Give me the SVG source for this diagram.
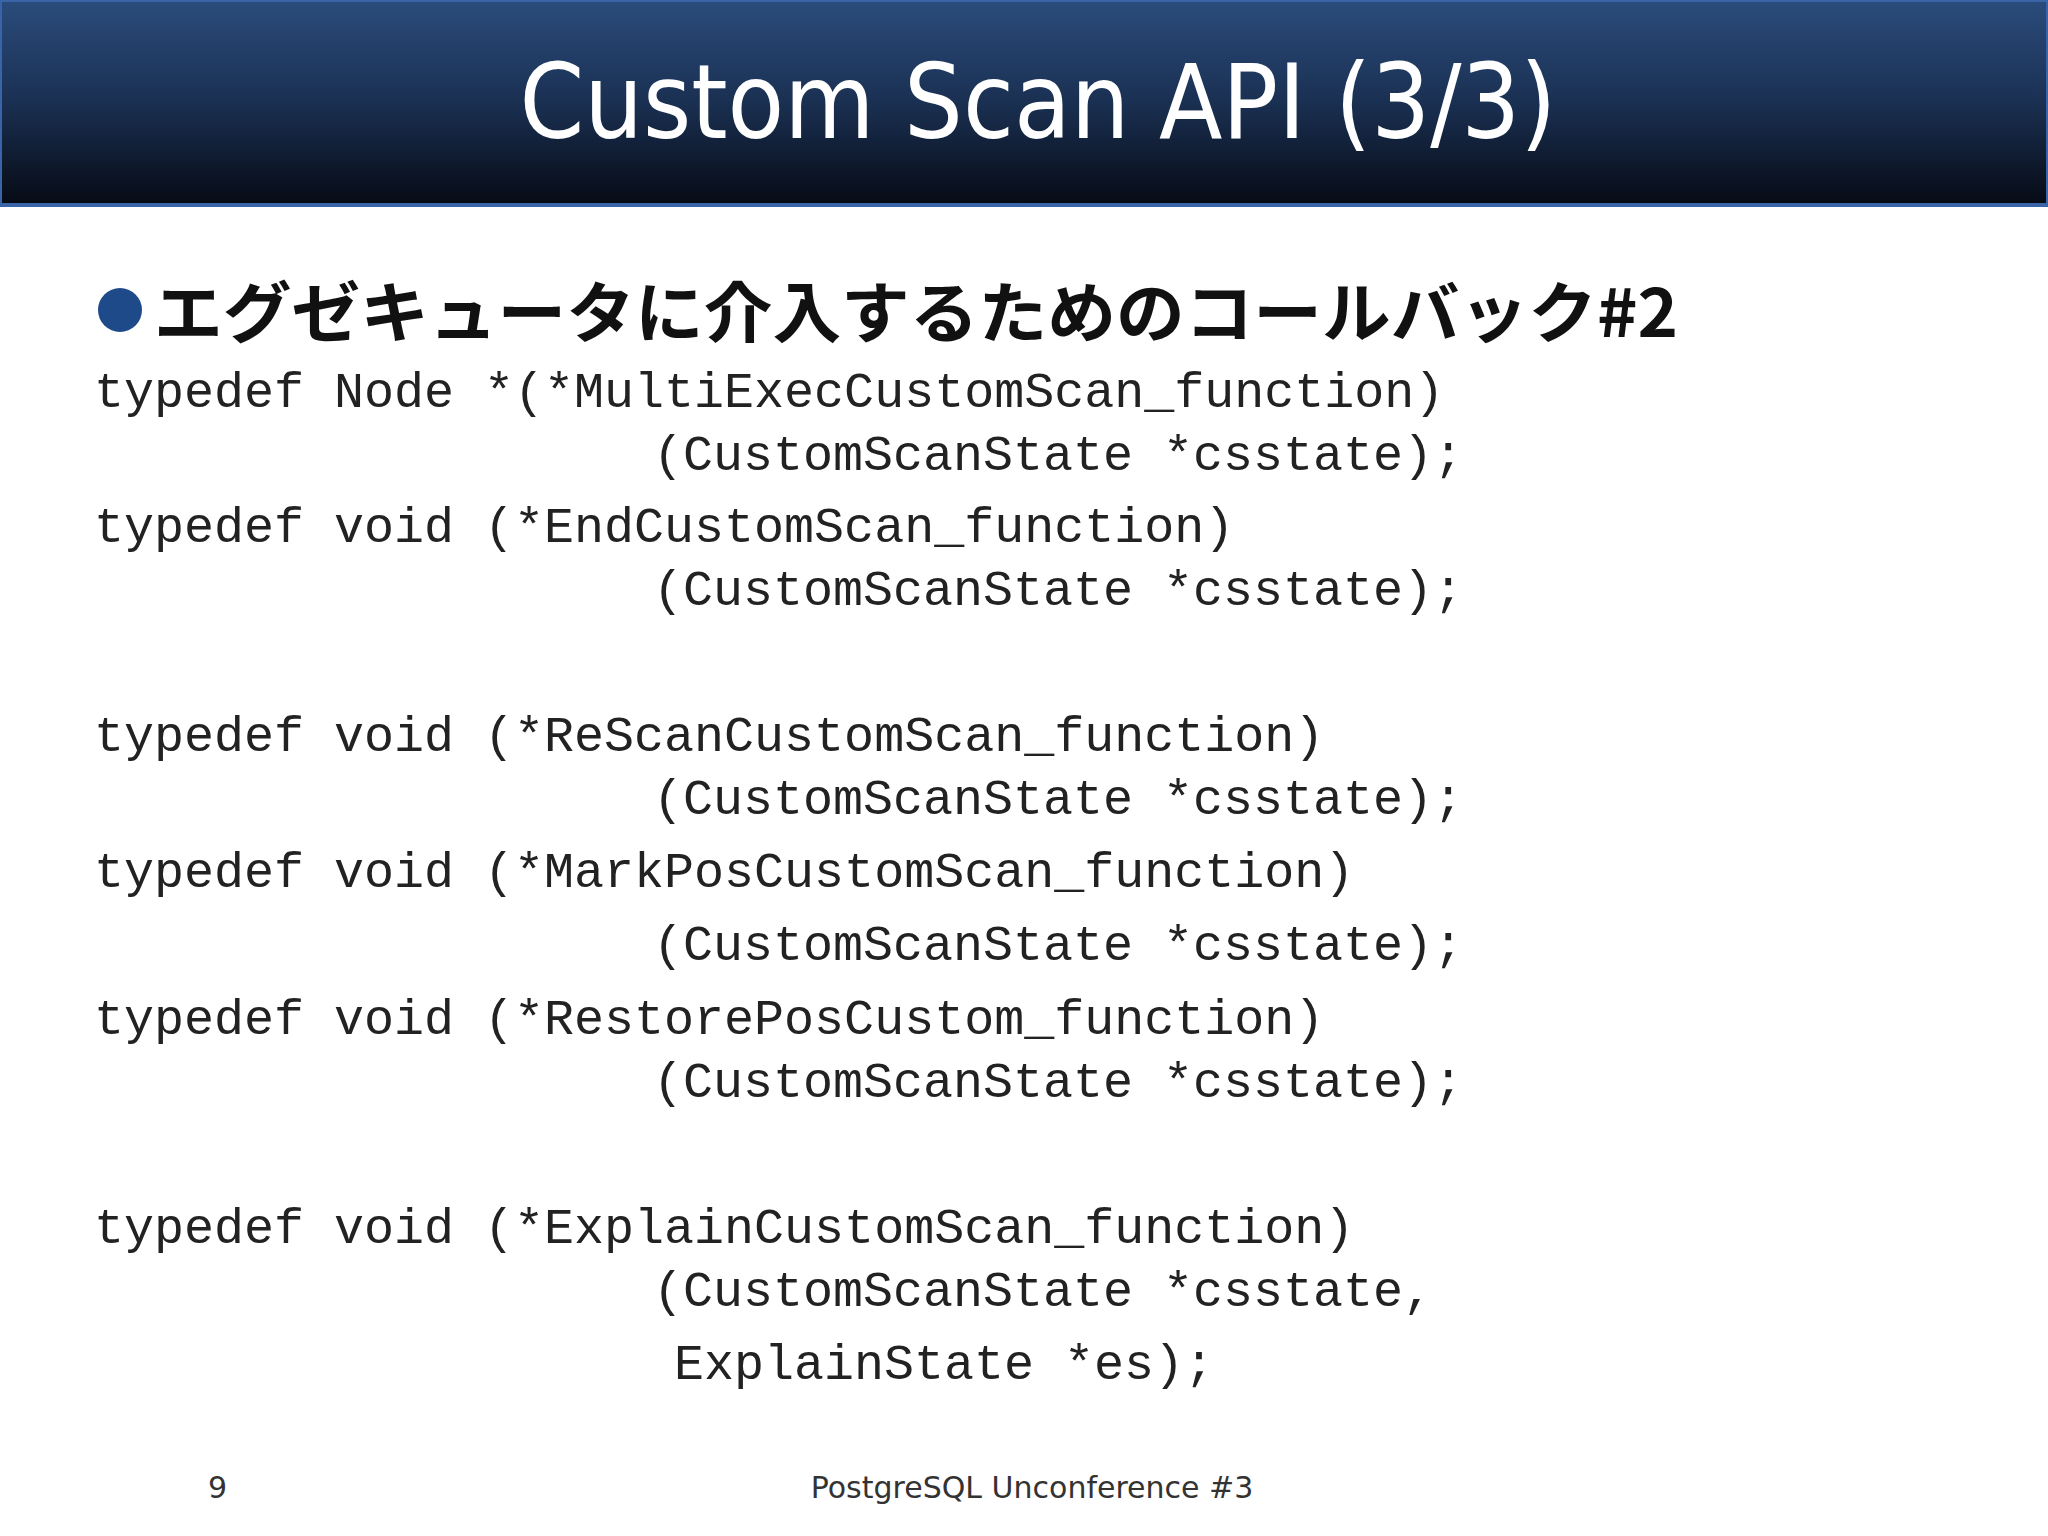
<svg xmlns="http://www.w3.org/2000/svg" width="2048" height="1536" viewBox="0 0 2048 1536">
<defs>
<linearGradient id="hg" x1="0" y1="0" x2="0" y2="1">
<stop offset="0" stop-color="#2b4c7c"/>
<stop offset="0.5" stop-color="#1a3052"/>
<stop offset="1" stop-color="#060a14"/>
</linearGradient>
<style>
.code{font-family:"Liberation Mono","Courier New",monospace;font-size:50px;fill:#222;}
.foot{font-family:"DejaVu Sans","Liberation Sans",sans-serif;font-size:30px;fill:#333;}
</style>
</defs>
<rect width="2048" height="1536" fill="#fff"/>
<g id="header">
<rect x="0" y="0" width="2048" height="205" fill="url(#hg)" stroke="#3a64a8" stroke-width="4"/>
<text x="1038" y="138" text-anchor="middle" font-family="DejaVu Sans,Verdana,sans-serif" font-size="104" fill="#fff" textLength="1037" lengthAdjust="spacingAndGlyphs">Custom Scan API (3/3)</text>
</g>
<g id="heading">
<circle cx="120" cy="310" r="22" fill="#1f4a8a"/>
<text x="154" y="337" font-family="'Noto Sans CJK JP',sans-serif" font-weight="bold" font-size="66" fill="#111" textLength="1524" lengthAdjust="spacingAndGlyphs">エグゼキュータに介入するためのコールバック#2</text>
</g>
<g id="code">
<text class="code" x="94" y="407">typedef Node *(*MultiExecCustomScan_function)</text>
<text class="code" x="653" y="470">(CustomScanState *csstate);</text>
<text class="code" x="94" y="542">typedef void (*EndCustomScan_function)</text>
<text class="code" x="653" y="605">(CustomScanState *csstate);</text>
<text class="code" x="94" y="751">typedef void (*ReScanCustomScan_function)</text>
<text class="code" x="653" y="814">(CustomScanState *csstate);</text>
<text class="code" x="94" y="887">typedef void (*MarkPosCustomScan_function)</text>
<text class="code" x="653" y="960">(CustomScanState *csstate);</text>
<text class="code" x="94" y="1034">typedef void (*RestorePosCustom_function)</text>
<text class="code" x="653" y="1097">(CustomScanState *csstate);</text>
<text class="code" x="94" y="1243">typedef void (*ExplainCustomScan_function)</text>
<text class="code" x="653" y="1306">(CustomScanState *csstate,</text>
<text class="code" x="674" y="1379">ExplainState *es);</text>
</g>
<g id="footer">
<text class="foot" x="208" y="1498">9</text>
<text class="foot" x="1032" y="1498" text-anchor="middle">PostgreSQL Unconference #3</text>
</g>
</svg>
